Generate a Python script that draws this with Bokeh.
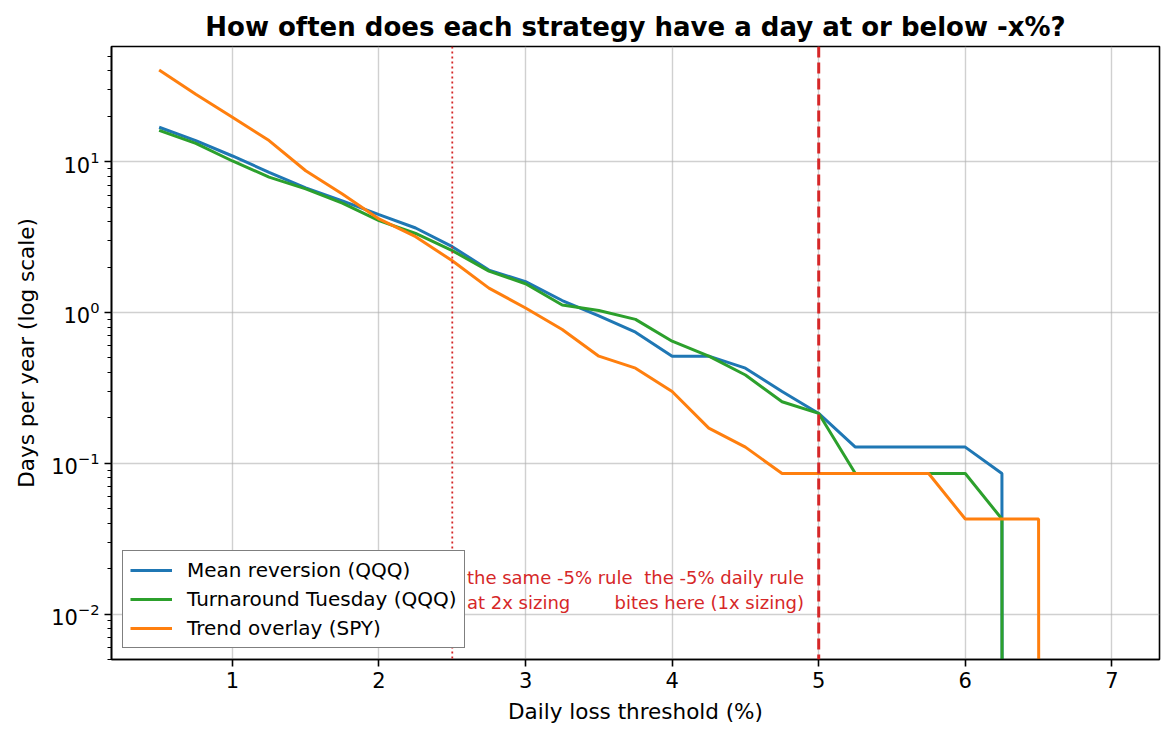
import numpy as np
from bokeh.plotting import figure
from bokeh.models import Range1d, FixedTicker, Span, Label, Legend, LegendItem, ColumnDataSource
from bokeh.embed import file_html
from bokeh.resources import INLINE

# ---- data ----
thresholds = [0.5, 0.75, 1.0, 1.25, 1.5, 1.75, 2.0, 2.25, 2.5, 2.75, 3.0, 3.25, 3.5, 3.75,
              4.0, 4.25, 4.5, 4.75, 5.0, 5.25, 5.5, 5.75, 6.0, 6.25, 6.5, 6.75, 7.0]
mean_reversion = [16.9, 13.8, 10.9, 8.5, 6.7, 5.5, 4.45, 3.63, 2.73, 1.91, 1.6, 1.2, 0.95, 0.74,
                  0.513, 0.513, 0.427, 0.299, 0.214, 0.128, 0.128, 0.128, 0.128, 0.0855, 0, 0, 0]
turnaround_tuesday = [16.1, 13.2, 10.1, 7.9, 6.6, 5.3, 4.06, 3.34, 2.57, 1.88, 1.55, 1.12, 1.03, 0.90,
                      0.645, 0.513, 0.385, 0.256, 0.214, 0.0855, 0.0855, 0.0855, 0.0855, 0.0427, 0, 0, 0]
trend_overlay = [40.5, 28.0, 19.7, 13.8, 8.7, 6.1, 4.17, 3.18, 2.2, 1.45, 1.07, 0.77, 0.513, 0.427,
                 0.299, 0.171, 0.128, 0.0855, 0.0855, 0.0855, 0.0855, 0.0855, 0.0427, 0.0427, 0.0427, 0, 0]
series_names = ["Mean reversion (QQQ)", "Turnaround Tuesday (QQQ)", "Trend overlay (SPY)"]
series_values = [mean_reversion, turnaround_tuesday, trend_overlay]
series_colors = ["#1f77b4", "#2ca02c", "#ff7f0e"]
x_ticks = [1, 2, 3, 4, 5, 6, 7]
rule_2x = 2.5
rule_1x = 5.0

FONT = "DejaVu Sans"
RED = "#d62728"

p = figure(width=1173, height=741, frame_width=1048, frame_height=613,
           min_border_left=111, min_border_right=14, min_border_top=46, min_border_bottom=82,
           y_axis_type="log", x_range=Range1d(0.175, 7.325), y_range=Range1d(0.005, 58),
           output_backend="svg", toolbar_location=None,
           title="How often does each strategy have a day at or below -x%?")

p.title.text_font = FONT
p.title.text_font_size = "26px"
p.title.text_font_style = "bold"
p.title.text_color = "black"
p.title.align = "center"
p.title.standoff = 10

p.outline_line_color = "black"
p.outline_line_width = 1.6
p.background_fill_color = "white"
p.border_fill_color = "white"

# axes
p.xaxis.ticker = FixedTicker(ticks=x_ticks)
p.yaxis.ticker.num_minor_ticks = 10
for ax in (p.xaxis[0], p.yaxis[0]):
    ax.axis_line_color = "black"
    ax.axis_line_width = 1.6
    ax.major_tick_line_color = "black"
    ax.major_tick_line_width = 1.6
    ax.minor_tick_line_color = "black"
    ax.minor_tick_line_width = 1.2
    ax.major_tick_out = 7
    ax.major_tick_in = 0
    ax.minor_tick_out = 4
    ax.minor_tick_in = 0
    ax.major_label_text_font = FONT
    ax.major_label_text_font_size = "21px"
    ax.major_label_text_color = "black"
    ax.axis_label_text_font = FONT
    ax.axis_label_text_font_size = "21.5px"
    ax.axis_label_text_font_style = "normal"
    ax.axis_label_text_color = "black"
    ax.major_label_standoff = 5
p.xaxis.axis_label = "Daily loss threshold (%)"
p.yaxis.axis_label = "Days per year (log scale)"
p.xaxis.axis_label_standoff = 8
p.yaxis.axis_label_standoff = 9

p.grid.grid_line_color = "#b0b0b0"
p.grid.grid_line_alpha = 0.6
p.grid.grid_line_width = 1.4

# reference lines
p.add_layout(Span(location=rule_2x, dimension="height", line_color=RED,
                  line_width=1.8, line_dash="2 3"))
p.add_layout(Span(location=rule_1x, dimension="height", line_color=RED,
                  line_width=3, line_dash="11 5"))

# series
items = []
for name, vals, col in zip(series_names, series_values, series_colors):
    arr = np.array(vals, dtype=float)
    plotted = np.where(arr > 0, arr, 1e-300)  # clip non-positive like a log-scale clip
    src = ColumnDataSource(dict(x=thresholds, y=plotted))
    r = p.line("x", "y", source=src, line_color=col, line_width=3)
    items.append(LegendItem(label=name, renderers=[r]))

# annotations
for xa, txt, align in [(2.6, "the same -5% rule\nat 2x sizing", "left"),
                       (4.9, "the -5% daily rule\nbites here (1x sizing)", "right")]:
    p.add_layout(Label(x=xa, y=0.0145, text=txt,
                       text_color=RED, text_font=FONT, text_font_size="18px",
                       text_line_height=1.2,
                       text_align=align, text_baseline="middle"))

legend = Legend(items=items, location="bottom_left", margin=11, padding=7,
                spacing=5, glyph_width=42, glyph_height=20, label_height=20,
                label_standoff=15, label_text_font=FONT, label_text_font_size="20px",
                label_text_color="black",
                border_line_color="black", border_line_width=1.6,
                background_fill_color="white", background_fill_alpha=1.0)
p.add_layout(legend)

open("out.html", "w").write(file_html(p, INLINE))
